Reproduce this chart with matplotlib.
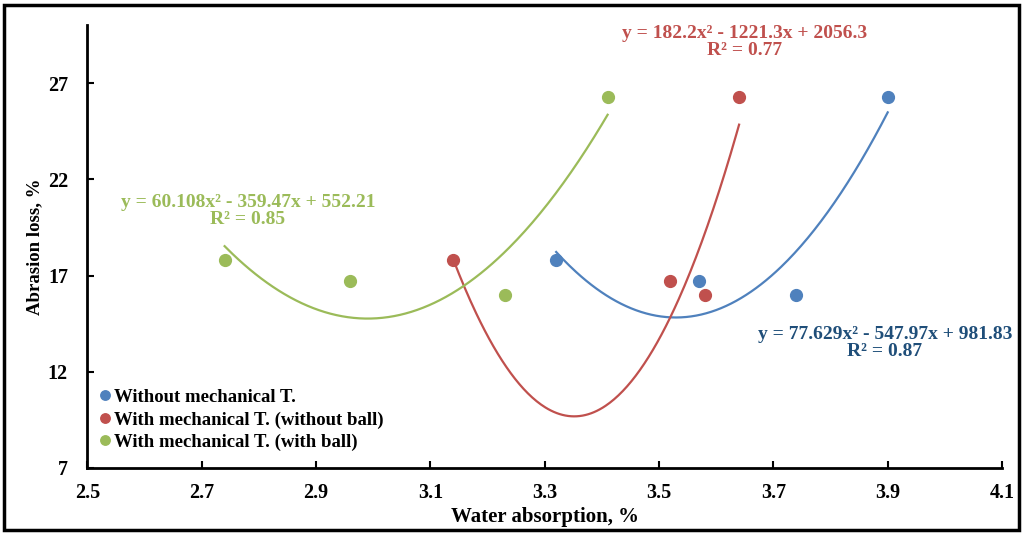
import numpy as np
import matplotlib.pyplot as plt
from matplotlib.patches import Rectangle

plt.rcParams['font.family'] = ['Liberation Serif', 'DejaVu Serif']
plt.rcParams['font.weight'] = 'bold'

# data
x_without = [3.32, 3.57, 3.74, 3.90]
y_without = [17.8, 16.7, 16.0, 26.3]
x_noball = [3.14, 3.52, 3.58, 3.64]
y_noball = [17.8, 16.7, 16.0, 26.3]
x_ball = [2.74, 2.96, 3.23, 3.41]
y_ball = [17.8, 16.7, 16.0, 26.3]

# trendline coefficients (from the equations on the chart)
coef_without = [77.629, -547.97, 981.83]
coef_noball = [182.2, -1221.3, 2056.3]
coef_ball = [60.108, -359.47, 552.21]

labels = ["Without mechanical T.",
          "With mechanical T. (without ball)",
          "With mechanical T. (with ball)"]

blue, red, green = '#4F81BD', '#C0504D', '#9BBB59'

fig = plt.figure(figsize=(10.25, 5.34), dpi=100)
ax = fig.add_axes([0.0853, 0.1236, 0.8923, 0.8287])

series = [(x_without, y_without, coef_without, blue),
          (x_noball, y_noball, coef_noball, red),
          (x_ball, y_ball, coef_ball, green)]
for (xs, ys, c, col), lab in zip(series, labels):
    ax.plot(xs, ys, 'o', color=col, markersize=8.5, label=lab, zorder=3)
    xx = np.linspace(min(xs), max(xs), 200)
    ax.plot(xx, np.polyval(c, xx), color=col, linewidth=1.6, zorder=2)

eq_kw = dict(ha='center', va='center', fontsize=14, fontweight='bold', linespacing=0.95)
ax.text(3.65, 29.15, "y = 182.2x² - 1221.3x + 2056.3\nR² = 0.77", color=red, **eq_kw)
ax.text(3.895, 13.5, "y = 77.629x² - 547.97x + 981.83\nR² = 0.87", color='#1F4E79', **eq_kw)
ax.text(2.781, 20.36, "y = 60.108x² - 359.47x + 552.21\nR² = 0.85", color=green, **eq_kw)

xt = np.arange(2.5, 4.11, 0.2)
ax.set_xlim(2.5, 4.1)
ax.set_ylim(7, 30)
ax.set_xticks(xt)
ax.set_xticklabels([f"{v:.1f}" for v in xt])
ax.set_yticks([7, 12, 17, 22, 27])
ax.tick_params(direction='in', length=5, width=1.5, labelsize=14.5)
ax.tick_params(axis='y', pad=14)
ax.tick_params(axis='x', pad=11)
for lbl in ax.get_xticklabels() + ax.get_yticklabels():
    lbl.set_fontweight('bold')
ax.spines['top'].set_visible(False)
ax.spines['right'].set_visible(False)
ax.spines['left'].set_linewidth(2)
ax.spines['bottom'].set_linewidth(2)

ax.set_xlabel("Water absorption, %", fontsize=15, fontweight='bold', labelpad=3)
ax.set_ylabel("Abrasion loss, %", fontsize=13.5, fontweight='bold', labelpad=3)

leg = ax.legend(loc='lower left', bbox_to_anchor=(-0.004, 0.0), frameon=False,
                handlelength=0.5, handletextpad=0.2, labelspacing=0.28,
                prop={'size': 13.5, 'weight': 'bold'}, markerscale=0.8)

fig.patches.append(Rectangle((0.004, 0.008), 0.99, 0.983, transform=fig.transFigure,
                             fill=False, edgecolor='black', linewidth=2.5))

fig.savefig('out.png', dpi=100)
